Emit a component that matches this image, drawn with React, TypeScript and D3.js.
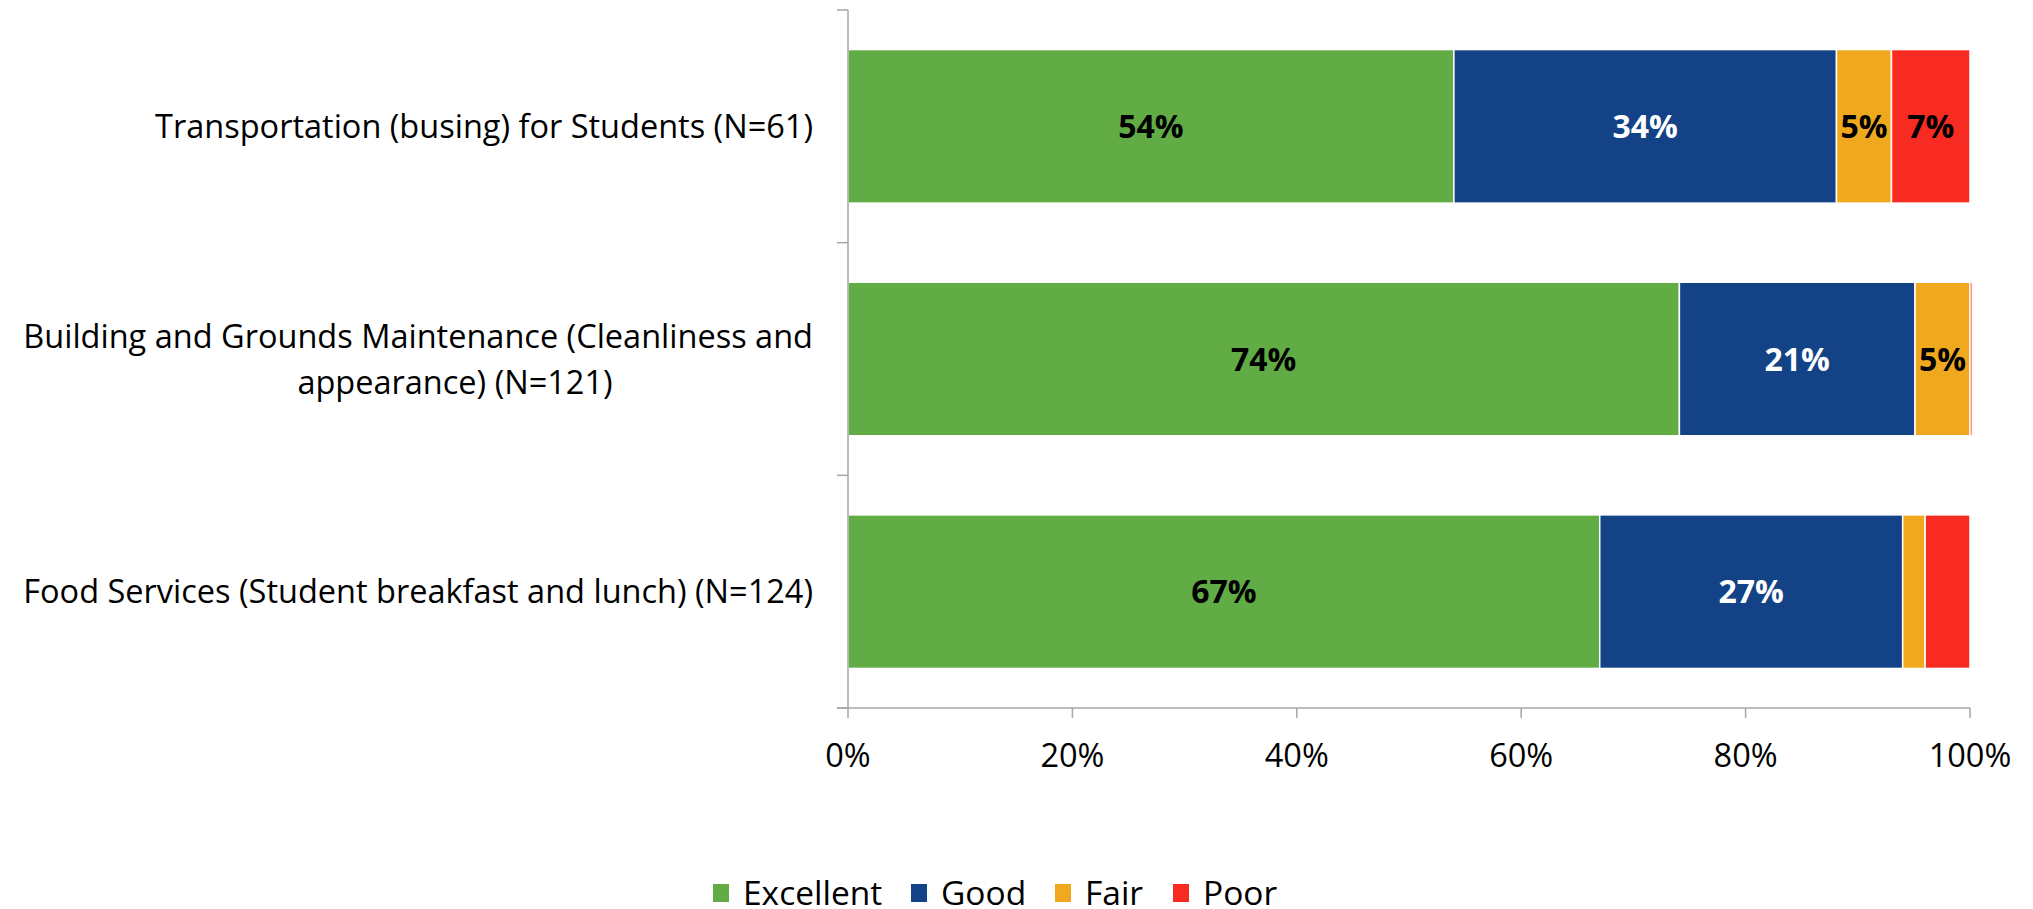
import React from "react";
import * as d3 from "d3";

// chart data
const categories = [
  "Transportation (busing) for Students (N=61)",
  "Building and Grounds Maintenance (Cleanliness and appearance) (N=121)",
  "Food Services (Student breakfast and lunch) (N=124)",
];
const categoryLines = [
  ["Transportation (busing) for Students (N=61)"],
  ["Building and Grounds Maintenance (Cleanliness and", "appearance) (N=121)"],
  ["Food Services (Student breakfast and lunch) (N=124)"],
];
const seriesNames = ["Excellent", "Good", "Fair", "Poor"];
const excellent = [54, 74.1, 67];
const good = [34.1, 21, 27];
const fair = [4.9, 4.9, 2];
const poor = [7, 0.2, 4];
const showLabel = [
  [true, true, true, true],
  [true, true, true, false],
  [true, true, false, false],
];
const xTicks = [0, 20, 40, 60, 80, 100];

const colors = ["#62AC46", "#134287", "#F0A91E", "#F72B21"];
const labelColors = ["#000", "#fff", "#000", "#000"];
const FONT = "'Open Sans', 'Noto Sans', sans-serif";

export default function App() {
  const width = 2033;
  const height = 909;
  const margin = { top: 10, right: 63, bottom: 201, left: 848 };
  const plotW = width - margin.left - margin.right;
  const plotH = height - margin.top - margin.bottom;

  const x = d3.scaleLinear().domain([0, 100]).range([0, plotW]);
  const y = d3
    .scaleBand<string>()
    .domain(categories)
    .range([0, plotH])
    .paddingInner(0.34)
    .paddingOuter(0.17);

  const rows = categories.map((c, i) => ({
    cat: c,
    Excellent: excellent[i],
    Good: good[i],
    Fair: fair[i],
    Poor: poor[i],
  }));
  const stack = d3.stack<any>().keys(seriesNames)(rows);

  const axisColor = "#A6A6A6";
  const step = y.step();
  const catTicks = d3.range(categories.length + 1).map((i) => i * step);

  // legend layout
  const legendX = [713, 911, 1055, 1173];

  return (
    <svg
      width={width}
      height={height}
      style={{ position: "absolute", left: 0, top: 0, background: "#fff" }}
      fontFamily={FONT}
    >
      <g transform={`translate(${margin.left},${margin.top})`}>
        {stack.map((layer, si) =>
          layer.map((d, ci) => {
            const x0 = x(d[0]);
            const x1 = x(d[1]);
            const yy = y(categories[ci])!;
            const bw = y.bandwidth();
            return (
              <g key={`${si}-${ci}`}>
                <rect
                  x={x0}
                  y={yy}
                  width={Math.max(0, x1 - x0)}
                  height={bw}
                  fill={colors[si]}
                  stroke="#fff"
                  strokeWidth={1.5}
                />
                {showLabel[ci][si] && (
                  <text
                    x={(x0 + x1) / 2}
                    y={yy + bw / 2}
                    dy="0.36em"
                    textAnchor="middle"
                    fontWeight="bold"
                    fontSize={32}
                    fill={labelColors[si]}
                  >
                    {`${Math.round(d[1] - d[0])}%`}
                  </text>
                )}
              </g>
            );
          })
        )}

        {/* y axis */}
        <line x1={0} x2={0} y1={0} y2={plotH} stroke={axisColor} strokeWidth={1.5} />
        {catTicks.map((t) => (
          <line key={t} x1={-11} x2={0} y1={t} y2={t} stroke={axisColor} strokeWidth={1.5} />
        ))}
        {categories.map((c, i) => {
          const lines = categoryLines[i];
          const cy = y(c)! + y.bandwidth() / 2;
          const lh = 46;
          return (
            <text key={c} fontSize={32.5} fill="#000">
              {lines.map((l, li) => (
                <tspan
                  key={li}
                  x={li > 0 ? -393 : -35}
                  textAnchor={li > 0 ? "middle" : "end"}
                  y={cy + (li - (lines.length - 1) / 2) * lh}
                  dy="0.36em"
                >
                  {l}
                </tspan>
              ))}
            </text>
          );
        })}

        {/* x axis */}
        <line x1={-11} x2={plotW} y1={plotH} y2={plotH} stroke={axisColor} strokeWidth={1.5} />
        {xTicks.map((t) => (
          <g key={t} transform={`translate(${x(t)},${plotH})`}>
            <line y1={0} y2={10} stroke={axisColor} strokeWidth={1.5} />
            <text y={47} dy="0.36em" textAnchor="middle" fontSize={32.5} fill="#000">
              {`${t}%`}
            </text>
          </g>
        ))}
      </g>

      {/* legend */}
      {seriesNames.map((s, i) => (
        <g key={s} transform={`translate(${legendX[i]},${893})`}>
          <rect x={0} y={-9} width={16} height={18} fill={colors[i]} />
          <text x={30} dy="0.36em" fontSize={33.5} fill="#000">
            {s}
          </text>
        </g>
      ))}
    </svg>
  );
}
